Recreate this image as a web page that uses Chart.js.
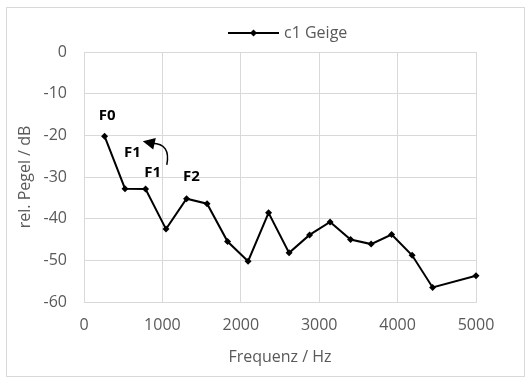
<!DOCTYPE html>
<html>
<head>
<meta charset="utf-8">
<script src="https://cdn.jsdelivr.net/npm/chart.js@4.4.0/dist/chart.umd.min.js"></script>
<style>
  html, body { margin: 0; padding: 0; background: #fff; }
  canvas { display: block; }
</style>
</head>
<body>
<canvas id="chart" width="531" height="383"></canvas>
<script>
// Series data
const freqs = [262, 523, 785, 1046, 1308, 1570, 1831, 2093, 2354, 2616, 2877, 3139, 3400, 3662, 3924, 4185, 4447, 5000];
const levels = [-20.2, -32.8, -32.9, -42.5, -35.2, -36.4, -45.5, -50.2, -38.6, -48.2, -43.9, -40.8, -45.0, -46.1, -43.8, -48.8, -56.5, -53.7];
const seriesName = 'c1 Geige';

// Annotation labels, placed in data units
const noteTexts = ['F0', 'F1', 'F1', 'F2'];
const noteX = [294, 617, 877, 1371];
const noteY = [-15.3, -24.2, -28.9, -30.0];

const FONT = "'Open Sans', sans-serif";
const GRID = '#d9d9d9';
const TEXT = '#595959';

// Frame + legend + annotations
const decorPlugin = {
    id: 'decor',
    beforeDraw(chart) {
        const ctx = chart.ctx;
        ctx.save();
        ctx.fillStyle = '#fff';
        ctx.fillRect(0, 0, chart.width, chart.height);
        ctx.strokeStyle = GRID;
        ctx.lineWidth = 1;
        ctx.strokeRect(6.5, 7.5, chart.width - 13, chart.height - 14);
        ctx.restore();
    },
    afterDraw(chart) {
        const ctx = chart.ctx;
        const xs = chart.scales.x, ys = chart.scales.y;
        ctx.save();

        // legend
        const ly = 33;
        ctx.strokeStyle = '#000';
        ctx.lineWidth = 2;
        ctx.beginPath();
        ctx.moveTo(228, ly);
        ctx.lineTo(279, ly);
        ctx.stroke();
        ctx.fillStyle = '#000';
        ctx.beginPath();
        ctx.moveTo(253.5, ly - 3.5);
        ctx.lineTo(257, ly);
        ctx.lineTo(253.5, ly + 3.5);
        ctx.lineTo(250, ly);
        ctx.closePath();
        ctx.fill();
        ctx.fillStyle = TEXT;
        ctx.font = '16px ' + FONT;
        ctx.textBaseline = 'middle';
        ctx.textAlign = 'left';
        ctx.fillText(seriesName, 284, ly);

        // labels
        ctx.fillStyle = '#000';
        ctx.font = 'bold 15px ' + FONT;
        ctx.textAlign = 'center';
        noteTexts.forEach((t, i) => {
            ctx.fillText(t, xs.getPixelForValue(noteX[i]), ys.getPixelForValue(noteY[i]));
        });

        // curved arrow
        const sx = xs.getPixelForValue(1056), sy = ys.getPixelForValue(-27.1);
        const cx = xs.getPixelForValue(1110), cy = ys.getPixelForValue(-22.0);
        const ex = xs.getPixelForValue(870), ey = ys.getPixelForValue(-21.9);
        const tx = xs.getPixelForValue(750), ty = ys.getPixelForValue(-21.4);
        ctx.strokeStyle = '#000';
        ctx.lineWidth = 1.5;
        ctx.beginPath();
        ctx.moveTo(sx, sy);
        ctx.quadraticCurveTo(cx, cy, ex, ey);
        ctx.stroke();
        const ang = Math.atan2(ty - ey, tx - ex);
        const len = 12, wid = 6;
        ctx.beginPath();
        ctx.moveTo(tx, ty);
        ctx.lineTo(tx - len * Math.cos(ang) + wid * Math.sin(ang), ty - len * Math.sin(ang) - wid * Math.cos(ang));
        ctx.lineTo(tx - len * Math.cos(ang) - wid * Math.sin(ang), ty - len * Math.sin(ang) + wid * Math.cos(ang));
        ctx.closePath();
        ctx.fill();

        ctx.restore();
    }
};

const ctx = document.getElementById('chart').getContext('2d');
const chart = new Chart(ctx, {
    type: 'scatter',
    data: {
        datasets: [{
            label: seriesName,
            data: freqs.map((f, i) => ({ x: f, y: levels[i] })),
            showLine: true,
            borderColor: '#000',
            backgroundColor: '#000',
            borderWidth: 2,
            pointStyle: 'rectRot',
            pointRadius: 3.5,
            pointBorderWidth: 0,
            tension: 0,
            clip: false
        }]
    },
    options: {
        responsive: false,
        animation: false,
        layout: {
            padding: { left: 16, right: 55, top: 52, bottom: 16 }
        },
        plugins: {
            legend: { display: false },
            tooltip: { enabled: false }
        },
        scales: {
            x: {
                type: 'linear',
                min: 0,
                max: 5000,
                ticks: {
                    stepSize: 1000,
                    color: TEXT,
                    font: { family: FONT, size: 16 },
                    padding: 14,
                    maxRotation: 0,
                    callback: (v) => String(v)
                },
                grid: { color: GRID, lineWidth: 1, drawTicks: false },
                border: { color: GRID },
                title: {
                    display: true,
                    text: 'Frequenz / Hz',
                    color: TEXT,
                    font: { family: FONT, size: 16 },
                    padding: { top: 8, bottom: 0 }
                },
                afterFit(scale) { scale.height = 65; }
            },
            y: {
                min: -60,
                max: 0,
                ticks: {
                    stepSize: 10,
                    color: TEXT,
                    font: { family: FONT, size: 16 },
                    padding: 17
                },
                grid: { color: GRID, lineWidth: 1, drawTicks: false },
                border: { color: GRID },
                title: {
                    display: true,
                    text: 'rel. Pegel / dB',
                    color: TEXT,
                    font: { family: FONT, size: 16 },
                    padding: { top: 0, bottom: 6 }
                },
                afterFit(scale) { scale.width = 68; }
            }
        }
    },
    plugins: [decorPlugin]
});
</script>
</body>
</html>
